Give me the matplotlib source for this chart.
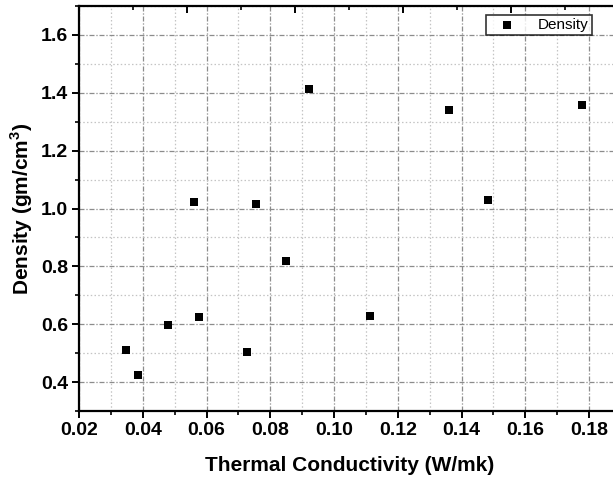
import matplotlib
matplotlib.use("Agg")
import matplotlib.pyplot as plt
from matplotlib.ticker import MultipleLocator, NullFormatter

# Data
thermal_conductivity = [0.0346, 0.0386, 0.0480, 0.0560, 0.0576, 0.0727, 0.0755,
                        0.0848, 0.0922, 0.1112, 0.1359, 0.1483, 0.1779]
density = [0.510, 0.425, 0.597, 1.023, 0.626, 0.504, 1.017,
           0.817, 1.413, 0.628, 1.340, 1.029, 1.359]

x_ticks = [0.02, 0.04, 0.06, 0.08, 0.10, 0.12, 0.14, 0.16, 0.18]
y_ticks = [0.4, 0.6, 0.8, 1.0, 1.2, 1.4, 1.6]

plt.rcParams['font.family'] = ['Liberation Sans', 'DejaVu Sans']

fig = plt.figure(figsize=(6.13, 4.78), dpi=100)
ax = fig.add_axes([79/613, 1-411/478, 542/613, (411-6)/478])

ax.scatter(thermal_conductivity, density, marker='s', s=36, color='black',
           linewidths=0, label='Density', zorder=3)

ax.set_xlim(0.02, 0.19)
ax.set_ylim(0.3, 1.7)
ax.set_xticks(x_ticks)
ax.set_yticks(y_ticks)
ax.set_xticklabels([f"{v:.2f}" for v in x_ticks])
ax.set_yticklabels([f"{v:.1f}" for v in y_ticks])
ax.xaxis.set_minor_locator(MultipleLocator(0.01))
ax.yaxis.set_minor_locator(MultipleLocator(0.1))

ax.grid(True, which='major', color='#8c8c8c', linestyle=(0, (4, 1.5, 1, 1.5)), linewidth=0.9)
ax.grid(True, which='minor', color='#c4c4c4', linestyle=(0, (1.2, 1.8)), linewidth=0.9)
ax.set_axisbelow(True)

for side in ['left', 'bottom', 'top']:
    ax.spines[side].set_linewidth(1.6)
ax.spines['right'].set_visible(False)

ax.tick_params(axis='both', which='major', direction='out', length=5, width=1.4,
               labelsize=14, pad=3)
ax.tick_params(axis='both', which='minor', direction='out', length=3, width=1.2)
for lbl in ax.get_xticklabels() + ax.get_yticklabels():
    lbl.set_fontweight('bold')

ax.set_xlabel('Thermal Conductivity (W/mk)', fontsize=15, fontweight='bold', labelpad=12)
ax.set_ylabel('Density (gm/cm$^\\mathregular{3}$)', fontsize=15, fontweight='bold', labelpad=4)

# secondary top axis (ticks only, inward)
top = ax.twiny()
top.set_xlim(0, 542/108)
top.xaxis.set_major_locator(MultipleLocator(1))
top.xaxis.set_minor_locator(MultipleLocator(0.5))
top.xaxis.set_major_formatter(NullFormatter())
top.tick_params(axis='x', which='major', direction='in', length=5, width=1.4)
top.tick_params(axis='x', which='minor', direction='in', length=3, width=1.2)
for s in top.spines.values():
    s.set_visible(False)

leg = ax.legend(loc='upper left', bbox_to_anchor=((486-79)/542, 1-(15-6)/405),
                fontsize=11, frameon=True, fancybox=False, edgecolor='black',
                borderpad=0.2, handletextpad=0.9, handlelength=2.3, borderaxespad=0)
leg.get_frame().set_linewidth(1.2)
leg.set_zorder(5)

fig.savefig('out.png', dpi=100)
